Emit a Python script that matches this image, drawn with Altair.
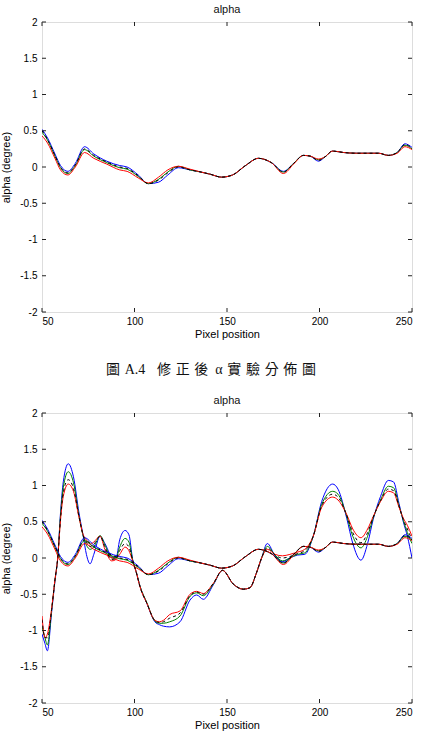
import altair as alt
import pandas as pd

# ---- corrected alpha profiles (four repeated measurements) ----
xs_corr = [50, 53, 57, 60, 64, 68, 73, 78, 85, 92, 96, 102, 107.5, 113, 118, 123.7,
           130, 136, 141, 147, 153, 160, 167, 174, 180.5, 186, 191.3, 195, 199.4,
           203, 207, 213, 220, 226, 232, 237.2, 242, 246.2, 250]
blue_c = [0.52, 0.40, 0.18, 0.02, -0.06, 0.05, 0.28, 0.18, 0.08, 0.02, 0.00, -0.11,
          -0.23, -0.21, -0.11, -0.01, -0.04, -0.07, -0.10, -0.14, -0.11, 0.02, 0.12,
          0.06, -0.06, 0.05, 0.16, 0.15, 0.08, 0.14, 0.22, 0.20, 0.19, 0.19, 0.19,
          0.16, 0.20, 0.32, 0.27]
green_c = [0.48, 0.37, 0.15, -0.01, -0.09, 0.02, 0.24, 0.15, 0.06, -0.01, -0.03, -0.13,
           -0.23, -0.17, -0.07, 0.01, -0.04, -0.07, -0.10, -0.14, -0.11, 0.02, 0.12,
           0.06, -0.07, 0.05, 0.16, 0.15, 0.10, 0.14, 0.22, 0.20, 0.19, 0.19, 0.19,
           0.16, 0.20, 0.30, 0.25]
red_c = [0.43, 0.33, 0.12, -0.04, -0.11, 0.00, 0.20, 0.12, 0.04, -0.04, -0.06, -0.15,
         -0.22, -0.14, -0.04, 0.01, -0.03, -0.07, -0.10, -0.14, -0.11, 0.02, 0.12,
         0.06, -0.09, 0.04, 0.16, 0.15, 0.11, 0.14, 0.22, 0.20, 0.19, 0.19, 0.19,
         0.16, 0.19, 0.28, 0.24]
black_c = [0.50, 0.38, 0.16, 0.00, -0.08, 0.03, 0.25, 0.16, 0.07, 0.00, -0.02, -0.12,
           -0.23, -0.18, -0.08, 0.00, -0.04, -0.07, -0.10, -0.14, -0.11, 0.02, 0.12,
           0.06, -0.07, 0.05, 0.16, 0.15, 0.09, 0.14, 0.22, 0.20, 0.19, 0.19, 0.19,
           0.16, 0.20, 0.31, 0.26]

# ---- uncorrected alpha profiles ----
xs_raw = [50, 51.6, 52.9, 55.2, 57, 58.5, 60, 61.5, 64.2, 67, 70, 72.3, 74, 76, 78,
          81.4, 84, 87.7, 90, 92, 94.9, 97, 99, 101, 103, 106.6, 111, 113.5, 115.6,
          119, 124.6, 130, 133.6, 137.2, 142.6, 147.6, 153.4, 158.8, 162.4, 166,
          168.7, 171.8, 176, 180, 184, 188, 192, 196.6, 201.2, 207.1, 210, 214.7,
          218, 222.4, 226, 229, 233, 237.2, 240, 243, 245.3, 247.5, 250]
blue_r = [-1.05, -1.18, -1.28, -0.75, -0.32, 0.00, 0.62, 1.05, 1.30, 1.12, 0.62, 0.30,
          0.05, -0.08, 0.05, 0.30, 0.20, 0.02, 0.00, 0.25, 0.38, 0.32, -0.02, -0.20,
          -0.39, -0.62, -0.88, -0.92, -0.94, -0.95, -0.88, -0.58, -0.51, -0.57, -0.37,
          -0.17, -0.36, -0.43, -0.41, -0.20, 0.00, 0.20, 0.03, -0.05, 0.00, 0.04, 0.05,
          0.30, 0.78, 1.02, 0.95, 0.55, 0.20, -0.03, 0.20, 0.53, 0.85, 1.07, 1.05,
          0.75, 0.50, 0.30, 0.00]
green_r = [-0.95, -1.10, -1.20, -0.72, -0.31, 0.00, 0.58, 0.97, 1.19, 1.04, 0.58, 0.30,
           0.18, 0.12, 0.15, 0.31, 0.18, 0.00, 0.00, 0.15, 0.27, 0.22, -0.03, -0.20,
           -0.39, -0.61, -0.87, -0.90, -0.90, -0.88, -0.80, -0.53, -0.48, -0.52, -0.36,
           -0.17, -0.36, -0.43, -0.41, -0.20, 0.00, 0.16, 0.04, -0.04, 0.00, 0.05, 0.07,
           0.30, 0.74, 0.92, 0.88, 0.58, 0.30, 0.14, 0.30, 0.55, 0.80, 0.99, 0.97,
           0.72, 0.52, 0.35, 0.20]
red_r = [-0.80, -1.10, -1.05, -0.70, -0.30, 0.00, 0.52, 0.85, 1.02, 0.92, 0.56, 0.32,
         0.25, 0.19, 0.22, 0.30, 0.12, -0.04, -0.02, 0.05, 0.15, 0.10, -0.04, -0.20,
         -0.40, -0.62, -0.86, -0.88, -0.86, -0.78, -0.73, -0.50, -0.46, -0.49, -0.35,
         -0.17, -0.36, -0.43, -0.41, -0.20, 0.00, 0.12, 0.05, 0.03, 0.05, 0.08, 0.12,
         0.30, 0.70, 0.84, 0.80, 0.60, 0.40, 0.28, 0.40, 0.57, 0.78, 0.92, 0.90,
         0.70, 0.55, 0.45, 0.30]
black_r = [-0.85, -1.10, -1.10, -0.71, -0.30, 0.00, 0.54, 0.90, 1.08, 0.96, 0.57, 0.31,
           0.22, 0.16, 0.19, 0.30, 0.15, -0.02, -0.01, 0.10, 0.20, 0.15, -0.03, -0.20,
           -0.40, -0.62, -0.86, -0.89, -0.88, -0.83, -0.76, -0.52, -0.47, -0.50, -0.35,
           -0.17, -0.36, -0.43, -0.41, -0.20, 0.00, 0.14, 0.04, 0.00, 0.02, 0.06, 0.10,
           0.30, 0.72, 0.88, 0.84, 0.59, 0.35, 0.21, 0.35, 0.56, 0.79, 0.95, 0.93,
           0.71, 0.53, 0.40, 0.25]

x_ticks = [50, 100, 150, 200, 250]
y_ticks = [-2, -1.5, -1, -0.5, 0, 0.5, 1, 1.5, 2]
caption = ("圖\u2004A.4\u2002\u2004修\u2004正\u2004後\u2002α\u2004"
           "實\u2004驗\u2004分\u2004佈\u2004圖")

colors = {"blue": "#0000FF", "green": "#008000", "red": "#FF0000", "black": "#000000"}
SANS = "Liberation Sans"
W, H = 370, 290


def long_frame(group, xs, series):
    rows = []
    for name, vals in series.items():
        for x, v in zip(xs, vals):
            rows.append({"x": x, "v": v, "col": name, "key": f"{group}-{name}"})
    return pd.DataFrame(rows)


corr = long_frame("c", xs_corr, {"blue": blue_c, "green": green_c, "red": red_c, "black": black_c})
raw = long_frame("r", xs_raw, {"blue": blue_r, "green": green_r, "red": red_r, "black": black_r})
both = pd.concat([raw, corr], ignore_index=True)

x_scale = alt.Scale(domain=[50, 250], nice=False, zero=False)
y_scale = alt.Scale(domain=[-2, 2], nice=False, zero=False)

# one axis definition shared by every layer, so the merged axis keeps it
x_axis = alt.Axis(values=x_ticks, title="Pixel position", ticks=False, domain=False,
                  grid=False, labelPadding=4, titlePadding=2, labelOverlap=False,
                  titleFontWeight="normal", labelExpr="'' + datum.value")
y_axis = alt.Axis(values=y_ticks, title="alpha (degree)", ticks=False, domain=False,
                  grid=False, labelPadding=5, titlePadding=8, labelOverlap=False,
                  titleFontWeight="normal", labelExpr="'' + datum.value")


def xe(field):
    return alt.X(field, scale=x_scale, axis=x_axis)


def ye(field):
    return alt.Y(field, scale=y_scale, axis=y_axis)


def panel(df, extra=None):
    base = alt.Chart(df)
    solid = base.transform_filter(alt.datum.col != "black").mark_line(
        interpolate="monotone", strokeWidth=1, clip=True
    ).encode(
        x=xe("x:Q"), y=ye("v:Q"),
        color=alt.Color("col:N", scale=alt.Scale(domain=["blue", "green", "red"],
                                                 range=[colors["blue"], colors["green"], colors["red"]]),
                        legend=None),
        detail="key:N",
    )
    dashed = base.transform_filter(alt.datum.col == "black").mark_line(
        interpolate="monotone", strokeWidth=1, strokeDash=[3, 3], color=colors["black"], clip=True
    ).encode(x=xe("x:Q"), y=ye("v:Q"), detail="key:N")

    # MATLAB-style inward ticks on all four sides of the box
    yt = alt.Chart(pd.DataFrame({"t": y_ticks}))
    xt = alt.Chart(pd.DataFrame({"t": x_ticks}))
    tick_style = dict(color="#222222", strokeWidth=1)
    left = yt.mark_rule(**tick_style).encode(y=ye("t:Q"), x=alt.value(0), x2=alt.value(4))
    right = yt.mark_rule(**tick_style).encode(y=ye("t:Q"), x=alt.value(W - 4), x2=alt.value(W))
    bottom = xt.mark_rule(**tick_style).encode(x=xe("t:Q"), y=alt.value(H - 4), y2=alt.value(H))
    top = xt.mark_rule(**tick_style).encode(x=xe("t:Q"), y=alt.value(0), y2=alt.value(4))

    layers = [solid, dashed, left, right, bottom, top]
    if extra is not None:
        layers.append(extra)
    return alt.layer(*layers).properties(
        width=W, height=H,
        title=alt.Title("alpha", font=SANS, fontSize=11, fontWeight="normal", offset=2, color="#111111"),
    )


cap = alt.Chart(pd.DataFrame({"t": [caption]})).mark_text(
    font="Liberation Serif, Noto Sans CJK TC", fontSize=14, color="#111111", align="center", baseline="middle"
).encode(text="t:N", x=alt.value(W / 2 - 16), y=alt.value(H + 58))

chart = alt.vconcat(panel(corr, cap), panel(both), spacing=16).properties(
    padding={"left": 0, "top": 3, "right": 0, "bottom": 0}
).configure_view(
    stroke="#222222", strokeWidth=1
).configure_axis(
    labelFont=SANS, labelFontSize=11, labelColor="#111111",
    titleFont=SANS, titleFontSize=11, titleFontWeight="normal", titleColor="#111111",
).configure(background="white")

chart.save("out.html", embed_options={"renderer": "svg", "actions": False})
